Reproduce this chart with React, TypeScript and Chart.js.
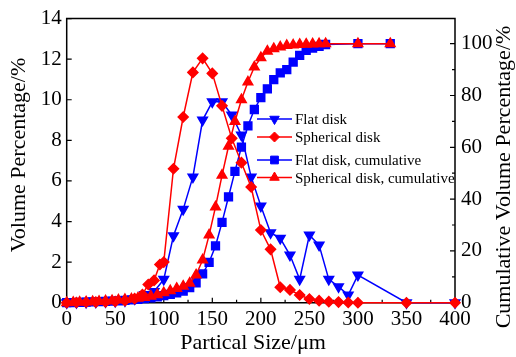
import React, { useEffect, useRef } from "react";
import { Chart, registerables } from "chart.js";
import { drawPoint } from "chart.js/helpers";

Chart.register(...registerables);

// Particle size (µm) for the volume distributions
const flatSizes = [0, 10, 20, 30, 40, 50, 60, 70, 80, 90, 100, 110, 120, 130, 140, 150, 160, 170, 180, 190, 200, 210, 220, 230, 240, 250, 260, 270, 280, 290, 300, 350, 400];
const flatVolume = [0, 0.01, 0.02, 0.03, 0.05, 0.07, 0.1, 0.2, 0.4, 0.55, 1.15, 3.3, 4.6, 6.2, 9.0, 9.9, 9.9, 9.25, 8.26, 6.2, 4.76, 3.45, 3.17, 2.35, 1.15, 3.33, 2.84, 1.15, 0.79, 0.38, 1.36, 0, 0];

const sphSizes = [0, 10, 20, 30, 40, 50, 60, 70, 78, 84, 90, 96, 100, 110, 120, 130, 140, 150, 160, 170, 180, 190, 200, 210, 220, 230, 240, 250, 260, 270, 280, 290, 300, 350, 400];
const sphVolume = [0, 0.01, 0.02, 0.03, 0.04, 0.06, 0.1, 0.2, 0.4, 0.9, 1.1, 1.88, 2.0, 6.6, 9.15, 11.35, 12.04, 11.3, 9.7, 8.1, 6.9, 5.7, 3.58, 2.63, 0.76, 0.63, 0.38, 0.18, 0.1, 0.05, 0.03, 0.01, 0, 0, 0];

// Particle size (µm) for the cumulative curves
const cumSizes = [0, 6.7, 13.3, 20, 26.7, 33.3, 40, 46.7, 53.3, 60, 66.7, 73.3, 80, 86.7, 93.3, 100, 106.7, 113.3, 120, 126.7, 133.3, 140, 146.7, 153.3, 160, 166.7, 173.3, 180, 186.7, 193.3, 200, 206.7, 213.3, 220, 226.7, 233.3, 240, 246.7, 253.3, 260, 266.7, 300, 333.3];
const flatCumulative = [0, 0.05, 0.1, 0.2, 0.3, 0.4, 0.5, 0.6, 0.7, 0.9, 1.1, 1.3, 1.6, 1.9, 2.3, 2.7, 3.2, 3.8, 4.5, 5.8, 7.7, 11.1, 15.6, 21.9, 31.0, 40.9, 50.7, 60.1, 68.3, 74.6, 79.2, 82.6, 86.1, 88.7, 90.0, 92.9, 95.5, 97.4, 98.3, 99.0, 99.7, 100, 100];
const sphCumulative = [0, 0.1, 0.2, 0.3, 0.4, 0.5, 0.7, 0.8, 1.0, 1.2, 1.4, 1.7, 2.0, 2.5, 3.1, 3.8, 4.6, 5.5, 6.4, 7.5, 10.7, 16.5, 26.1, 37.0, 49.2, 60.4, 70.0, 78.4, 85.2, 91.0, 94.6, 97.1, 98.1, 98.7, 99.3, 99.5, 99.7, 99.8, 99.9, 99.95, 100, 100, 100];

const seriesLabels = ["Flat disk", "Spherical disk", "Flat disk, cumulative", "Spherical disk, cumulative"];

// Minor tick positions on each axis
const xMinor = [25, 75, 125, 175, 225, 275, 325, 375];
const rightMinor = [10, 30, 50, 70, 90];

const SERIF = '"Liberation Serif", "Times New Roman", serif';
const BLUE = "#0000ff";
const RED = "#ff0000";

const pairs = (xs: number[], ys: number[]) => xs.map((x, i) => ({ x, y: ys[i] }));

const framePlugin = {
  id: "frame",
  beforeDatasetsDraw(chart: any) {
    const { ctx, chartArea: a, scales } = chart;
    ctx.save();
    ctx.strokeStyle = "#000";
    ctx.lineWidth = 1.5;
    ctx.beginPath();
    ctx.rect(a.left, a.top, a.right - a.left, a.bottom - a.top);
    ctx.stroke();
    ctx.lineWidth = 1.2;
    ctx.beginPath();
    const x = scales.x, yl = scales.y, yr = scales.y2;
    for (let v = 0; v <= 400; v += 50) {
      const p = x.getPixelForValue(v);
      ctx.moveTo(p, a.bottom); ctx.lineTo(p, a.bottom - 5);
    }
    xMinor.forEach((v) => {
      const p = x.getPixelForValue(v);
      ctx.moveTo(p, a.bottom); ctx.lineTo(p, a.bottom - 3);
    });
    for (let v = 0; v <= 14; v += 2) {
      const p = yl.getPixelForValue(v);
      ctx.moveTo(a.left, p); ctx.lineTo(a.left + 5, p);
    }
    for (let v = 0; v <= 100; v += 20) {
      const p = yr.getPixelForValue(v);
      ctx.moveTo(a.right, p); ctx.lineTo(a.right - 5, p);
    }
    rightMinor.forEach((v) => {
      const p = yr.getPixelForValue(v);
      ctx.moveTo(a.right, p); ctx.lineTo(a.right - 3, p);
    });
    ctx.stroke();
    ctx.restore();
  },
  afterDraw(chart: any) {
    const { ctx } = chart;
    ctx.save();
    ctx.fillStyle = "#000";
    // Axis titles
    ctx.font = `22px ${SERIF}`;
    ctx.textAlign = "center";
    ctx.textBaseline = "alphabetic";
    ctx.fillText("Partical Size/\u03bcm", 253, 349);
    ctx.save();
    ctx.translate(25, 155);
    ctx.rotate(-Math.PI / 2);
    ctx.fillText("Volume Percentage/%", 0, 0);
    ctx.restore();
    ctx.save();
    ctx.translate(510, 177);
    ctx.rotate(-Math.PI / 2);
    ctx.fillText("Cumulative Volume Percentage/%", 0, 0);
    ctx.restore();

    // Legend
    const rows = [119, 137, 160, 177.5];
    ctx.font = `15px ${SERIF}`;
    ctx.textAlign = "left";
    chart.data.datasets.forEach((ds: any, i: number) => {
      const y = rows[i];
      ctx.strokeStyle = ds.borderColor;
      ctx.lineWidth = ds.borderWidth;
      ctx.beginPath();
      ctx.moveTo(257, y);
      ctx.lineTo(292, y);
      ctx.stroke();
      ctx.fillStyle = ds.pointBackgroundColor;
      ctx.strokeStyle = ds.pointBorderColor;
      ctx.lineWidth = 1;
      drawPoint(ctx, { pointStyle: ds.pointStyle, rotation: ds.pointRotation || 0, radius: ds.pointRadius, borderWidth: 1 }, 274.5, y);
      ctx.fillStyle = "#000";
      ctx.fillText(ds.label, 295, y + 5);
    });
    ctx.restore();
  },
};

export default function App() {
  const canvasRef = useRef<HTMLCanvasElement | null>(null);

  useEffect(() => {
    const canvas = canvasRef.current;
    if (!canvas) return;
    const tickFont = { family: SERIF, size: 21 };
    const common = { borderWidth: 1.5, clip: false as any, tension: 0 };
    const chart = new Chart(canvas, {
      type: "line",
      data: {
        datasets: [
          {
            ...common,
            label: seriesLabels[0],
            data: pairs(flatSizes, flatVolume),
            yAxisID: "y",
            borderColor: BLUE,
            backgroundColor: BLUE,
            pointBackgroundColor: BLUE,
            pointBorderColor: BLUE,
            pointStyle: "triangle",
            pointRotation: 180,
            pointRadius: 5.5,
            order: 4,
          },
          {
            ...common,
            label: seriesLabels[1],
            data: pairs(sphSizes, sphVolume),
            yAxisID: "y",
            borderColor: RED,
            backgroundColor: RED,
            pointBackgroundColor: RED,
            pointBorderColor: RED,
            pointStyle: "rectRot",
            pointRadius: 5,
            order: 2,
          },
          {
            ...common,
            label: seriesLabels[2],
            data: pairs(cumSizes, flatCumulative),
            yAxisID: "y2",
            borderColor: BLUE,
            backgroundColor: BLUE,
            pointBackgroundColor: BLUE,
            pointBorderColor: BLUE,
            pointStyle: "rect",
            pointRadius: 5.5,
            order: 3,
          },
          {
            ...common,
            label: seriesLabels[3],
            data: pairs(cumSizes, sphCumulative),
            yAxisID: "y2",
            borderColor: RED,
            backgroundColor: RED,
            pointBackgroundColor: RED,
            pointBorderColor: RED,
            pointStyle: "triangle",
            pointRadius: 5.5,
            order: 1,
          },
        ],
      },
      options: {
        responsive: false,
        animation: false,
        events: [],
        layout: { padding: { top: 18, left: 0, right: 0, bottom: 0 } },
        plugins: { legend: { display: false }, tooltip: { enabled: false } },
        scales: {
          x: {
            type: "linear",
            min: 0,
            max: 400,
            grid: { display: false, drawTicks: false },
            border: { display: false },
            ticks: { stepSize: 50, font: tickFont, color: "#000", padding: 4, maxRotation: 0 },
            afterFit: (s: any) => { s.height = 54.3; },
          },
          y: {
            position: "left",
            min: 0,
            max: 14,
            grid: { display: false, drawTicks: false },
            border: { display: false },
            ticks: { stepSize: 2, font: tickFont, color: "#000", padding: 5 },
            afterFit: (s: any) => { s.width = 66.7; },
          },
          y2: {
            position: "right",
            min: 0,
            max: 109.7,
            grid: { display: false, drawTicks: false },
            border: { display: false },
            ticks: { stepSize: 20, font: tickFont, color: "#000", padding: 6 },
            afterBuildTicks: (s: any) => { s.ticks = s.ticks.filter((t: any) => t.value % 20 === 0); },
            afterFit: (s: any) => { s.width = 61; },
          },
        },
      },
      plugins: [framePlugin],
    } as any);
    return () => chart.destroy();
  }, []);

  return (
    <div style={{ position: "fixed", left: 0, top: 0, width: 516, height: 357, background: "#fff" }}>
      <canvas ref={canvasRef} width={516} height={357} />
    </div>
  );
}
